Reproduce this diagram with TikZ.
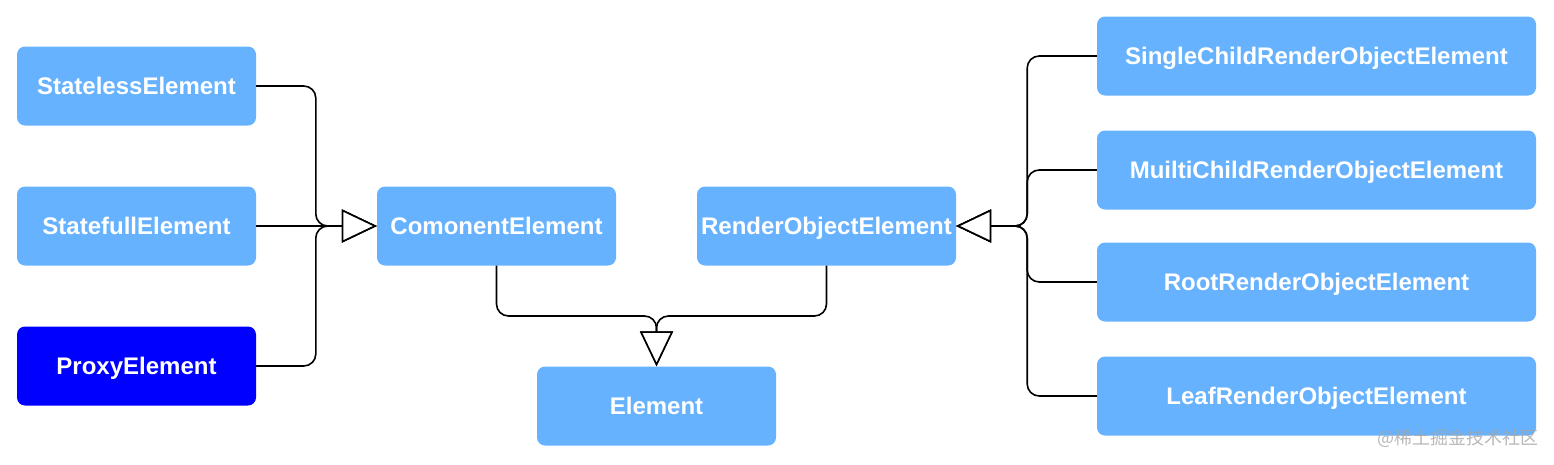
\documentclass[tikz,border=0pt]{standalone}
\usepackage{fontspec}
\setmainfont{Liberation Sans}
\newfontfamily\cjkfont{Noto Sans CJK SC}
\usetikzlibrary{arrows.meta}
\definecolor{boxblue}{HTML}{66B2FF}
\definecolor{deepblue}{HTML}{0000FF}
\begin{document}
\begin{tikzpicture}[x=1pt,y=-1pt,
  box/.style={draw=none,fill=boxblue,rounded corners=8pt,minimum height=79pt,
    text=white,font=\fontsize{24}{26}\selectfont\bfseries,inner sep=0pt,
    text height=17pt,text depth=0pt},
  conn/.style={draw=black,line width=1.6pt,rounded corners=12pt,
    -{Triangle[open,length=35pt,width=33pt,fill=white]}}
]
\useasboundingbox (0,0) rectangle (1554,464);
\node[box,minimum width=239pt] (sl) at (136.5,86) {StatelessElement};
\node[box,minimum width=239pt] (sf) at (136.5,226) {StatefullElement};
\node[box,minimum width=239pt,fill=deepblue] (px) at (136.5,366) {ProxyElement};
\node[box,minimum width=239pt] (ce) at (496.5,226) {ComonentElement};
\node[box,minimum width=259pt] (ro) at (826.5,226) {RenderObjectElement};
\node[box,minimum width=239pt] (el) at (656.5,406) {Element};
\node[box,minimum width=439pt] (sc) at (1316.5,56) {SingleChildRenderObjectElement};
\node[box,minimum width=439pt] (mc) at (1316.5,170) {MuiltiChildRenderObjectElement};
\node[box,minimum width=439pt] (rr) at (1316.5,282) {RootRenderObjectElement};
\node[box,minimum width=439pt] (lr) at (1316.5,396) {LeafRenderObjectElement};

\coordinate (jl) at ([xshift=-61pt]ce.west);
\coordinate (jr) at ([xshift=71pt]ro.east);
\coordinate (jb) at (656.5,316);

\path[conn] (sl.east) -| (jl) -- (ce.west);
\path[conn] (sf.east) -- (ce.west);
\path[conn] (px.east) -| (jl) -- (ce.west);

\path[conn] (sc.west) -| (jr) -- (ro.east);
\path[conn] (mc.west) -| (jr) -- (ro.east);
\path[conn] (rr.west) -| (jr) -- (ro.east);
\path[conn] (lr.west) -| (jr) -- (ro.east);

\path[conn] (ce.south) |- (jb) -- (el.north);
\path[conn] (ro.south) |- (jb) -- (el.north);

\node[text=gray!70,opacity=0.8,font=\cjkfont\fontsize{18}{20}\selectfont] (wm) at (1458,438) {@稀土掘金技术社区};
\end{tikzpicture}
\end{document}
